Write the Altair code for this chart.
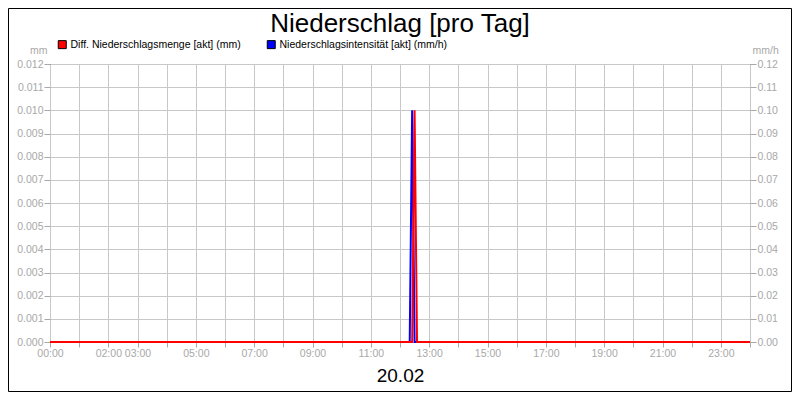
import altair as alt
import pandas as pd

# ---- data ----
red_label = "Diff. Niederschlagsmenge [akt] (mm)"
blue_label = "Niederschlagsintensität [akt] (mm/h)"

red_times = ["00:00", "12:25", "12:30", "12:35", "24:00"]
red_values = [0.0, 0.0, 0.010, 0.0, 0.0]

blue_times = ["00:00", "12:20", "12:25", "12:30", "24:00"]
blue_values = [0.0, 0.0, 0.10, 0.0, 0.0]

hour_ticks = list(range(25))
label_hours = [0, 2, 3, 5, 7, 9, 11, 13, 15, 17, 19, 21, 23]
left_ticks = [i / 1000 for i in range(13)]
right_ticks = [i / 100 for i in range(13)]

title_text = "Niederschlag [pro Tag]"
date_text = "20.02"


def to_hours(t):
    h, m = t.split(":")
    return int(h) + int(m) / 60


red_df = pd.DataFrame({"hour": [to_hours(t) for t in red_times], "value": red_values})
blue_df = pd.DataFrame({"hour": [to_hours(t) for t in blue_times], "value": blue_values})
legend_df = pd.DataFrame({"series": [red_label, blue_label]})
title_df = pd.DataFrame({"t": [title_text]})

FONT = "Liberation Sans"
LABEL_GRAY = "#a8a8a8"
GRID_GRAY = "#c8c8c8"
RED = "#ff0000"
BLUE = "#0000ff"

label_list = ",".join(str(h) for h in label_hours)
x_label_expr = (
    f"indexof([{label_list}], datum.value) >= 0 ? "
    "pad('' + datum.value, 2, '0', 'left') + ':00' : ''"
)

x_enc = alt.X(
    "hour:Q",
    scale=alt.Scale(domain=[0, 24], nice=False, zero=False),
    axis=alt.Axis(
        values=hour_ticks,
        labelExpr=x_label_expr,
        labelOverlap=False,
        labelFlush=False,
        labelColor=LABEL_GRAY,
        labelFontSize=10.5,
        labelFont=FONT,
        labelPadding=1,
        tickColor=LABEL_GRAY,
        tickSize=5,
        grid=True,
        gridColor=GRID_GRAY,
        domain=False,
        title=date_text,
        titleFont=FONT,
        titleFontSize=19,
        titleFontWeight="normal",
        titleColor="black",
        titlePadding=8,
    ),
)

blue_layer = (
    alt.Chart(blue_df)
    .mark_line(strokeWidth=2, color=BLUE)
    .encode(
        x=x_enc,
        y=alt.Y(
            "value:Q",
            scale=alt.Scale(domain=[0, 0.12], nice=False),
            axis=alt.Axis(
                orient="right",
                values=right_ticks,
                format=".2f",
                labelColor=LABEL_GRAY,
                labelFontSize=10.5,
                labelFont=FONT,
                labelPadding=1,
                tickColor=LABEL_GRAY,
                tickSize=6,
                grid=False,
                domain=False,
                title="mm/h",
                titleAngle=0,
                titleAlign="left",
                titleBaseline="middle",
                titleX=2,
                titleY=-14,
                titleColor=LABEL_GRAY,
                titleFont=FONT,
                titleFontSize=10.5,
                titleFontWeight="normal",
            ),
        ),
    )
)

red_layer = (
    alt.Chart(red_df)
    .mark_line(strokeWidth=2, color=RED)
    .encode(
        x=x_enc,
        y=alt.Y(
            "value:Q",
            scale=alt.Scale(domain=[0, 0.012], nice=False),
            axis=alt.Axis(
                orient="left",
                values=left_ticks,
                format=".3f",
                labelColor=LABEL_GRAY,
                labelFontSize=10.5,
                labelFont=FONT,
                labelPadding=1,
                tickColor=LABEL_GRAY,
                tickSize=6,
                grid=True,
                gridColor=GRID_GRAY,
                domain=False,
                title="mm",
                titleAngle=0,
                titleAlign="right",
                titleBaseline="middle",
                titleX=-3,
                titleY=-14,
                titleColor=LABEL_GRAY,
                titleFont=FONT,
                titleFontSize=10.5,
                titleFontWeight="normal",
            ),
        ),
    )
)

# invisible carrier marks for the legend (the legend symbols stay opaque)
legend_layer = (
    alt.Chart(legend_df)
    .mark_square(filled=True, size=64, stroke="black", strokeWidth=1, opacity=0)
    .encode(
        x=alt.value(1),
        y=alt.value(1),
        color=alt.Color(
            "series:N",
            scale=alt.Scale(domain=[red_label, blue_label], range=[RED, BLUE]),
            legend=alt.Legend(
                title=None,
                orient="none",
                legendX=7,
                legendY=-25,
                direction="horizontal",
                symbolType="square",
                symbolSize=64,
                symbolOpacity=1,
                symbolStrokeColor="black",
                symbolStrokeWidth=1,
                labelFont=FONT,
                labelFontSize=10.5,
                labelColor="black",
                labelOffset=3,
                labelLimit=500,
                columnPadding=24,
            ),
        ),
    )
)

title_layer = (
    alt.Chart(title_df)
    .mark_text(font=FONT, fontSize=26, color="black", align="center", baseline="alphabetic")
    .encode(text="t:N", x=alt.value(350), y=alt.value(-32))
)

frame = alt.Chart(pd.DataFrame({"a": [0]})).mark_rect(
    fill=None, stroke="black", strokeWidth=1
).encode(
    x=alt.value(-41.5), x2=alt.value(741.5), y=alt.value(-55.5), y2=alt.value(327.5)
)

chart = (
    alt.layer(blue_layer, red_layer, legend_layer, title_layer, frame)
    .resolve_scale(y="independent")
    .properties(
        width=700,
        height=278,
        autosize=alt.AutoSizeParams(type="none"),
        padding={"left": 42, "top": 56, "right": 42, "bottom": 50},
        background="white",
    )
    .configure_view(stroke="black", strokeWidth=1)
)

chart.save("out.html", embed_options={"renderer": "svg", "actions": False})
